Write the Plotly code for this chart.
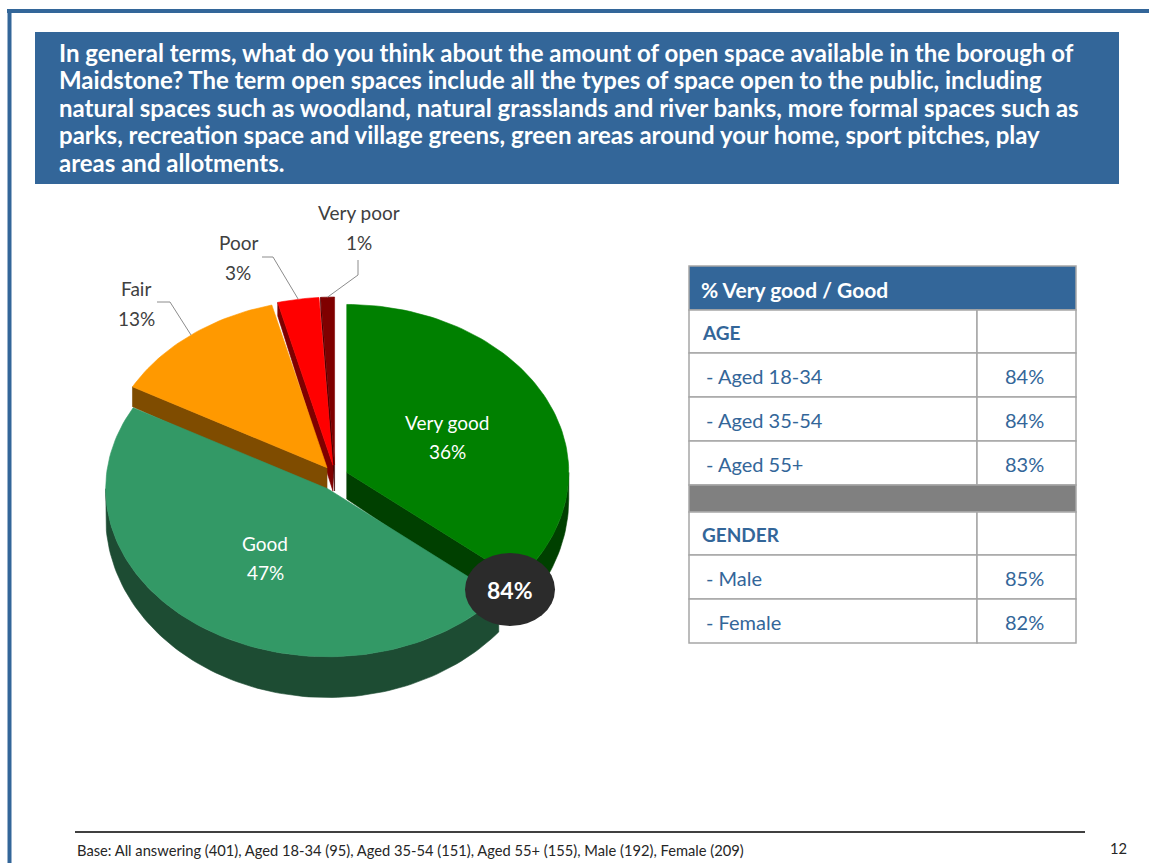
import numpy as np
import plotly.graph_objects as go

# ---------------- data ----------------
categories = ["Very good", "Good", "Fair", "Poor", "Very poor"]
shares = [36, 47, 13, 3, 1]
net_good = 84

age_groups = ["Aged 18-34", "Aged 35-54", "Aged 55+"]
age_values = [84, 84, 83]
gender_groups = ["Male", "Female"]
gender_values = [85, 82]

title_lines = [
    "In general terms, what do you think about the amount of open space available in the borough of",
    "Maidstone? The term open spaces include all the types of space open to the public, including",
    "natural spaces such as woodland, natural grasslands and river banks, more formal spaces such as",
    "parks, recreation space and village greens, green areas around your home, sport pitches, play",
    "areas and allotments.",
]
base_note = ("Base: All answering (401), Aged 18-34 (95), Aged 35-54 (151), "
             "Aged 55+ (155), Male (192), Female (209)")
page_no = "12"

# ---------------- styling ----------------
W, H = 1149, 866
BLUE = "#336699"
FONT = "Lato"
top_colors = ["#008000", "#339966", "#FF9900", "#FF0000", "#7F0000"]
side_colors = ["#004000", "#1D4C33", "#7F4C00", "#7F0000", "#3F0000"]

# 3-D pie geometry (page pixel units)
CX, CY = 335.0, 478.0
RX, RY = 222.0, 168.0
EXPLODE = 13.0
DEPTH = 27.0
PERSP = 0.48

# outside label anchors and leader elbows
outside = {
    "Fair": dict(pos=(136, 303), path=[(157, 302), (170, 302)]),
    "Poor": dict(pos=(238, 257), path=[(262, 257), (273, 257)]),
    "Very poor": dict(pos=(359, 227), path=[(358, 260), (358, 275)]),
}


def rad(d):
    return np.deg2rad(d)


def pt(c, a, r=1.0):
    return c[0] + RX * r * np.sin(rad(a)), c[1] - RY * r * np.cos(rad(a))


def depth(y):
    return DEPTH * (1 + PERSP * (y - CY) / RY)


def arc(c, a0, a1, n=None):
    n = n or max(4, int(abs(a1 - a0) / 1.5) + 2)
    angs = np.linspace(a0, a1, n)
    xs = c[0] + RX * np.sin(rad(angs))
    ys = c[1] - RY * np.cos(rad(angs))
    return list(xs), list(ys)


fig = go.Figure()

# slice angular extents, clockwise from 12 o'clock
total = float(sum(shares))
bounds = np.concatenate([[0], np.cumsum(shares) / total * 360.0])
slices = []
for i, name in enumerate(categories):
    a0, a1 = bounds[i], bounds[i + 1]
    mid = (a0 + a1) / 2
    c = (CX + EXPLODE * np.sin(rad(mid)), CY - EXPLODE * np.cos(rad(mid)))
    slices.append(dict(name=name, a0=a0, a1=a1, mid=mid, c=c, i=i))


def add_poly(xs, ys, color, lw=0.6, lc=None):
    fig.add_trace(go.Scatter(
        x=xs, y=ys, mode="lines", fill="toself", fillcolor=color,
        line=dict(color=lc or color, width=lw), hoverinfo="skip", showlegend=False))


# radial side faces that turn towards the viewer
radial = []
for s in slices:
    for a, vis in ((s["a0"], np.sin(rad(s["a0"])) < -1e-9), (s["a1"], np.sin(rad(s["a1"])) > 1e-9)):
        if vis:
            radial.append((s, a))
radial.sort(key=lambda t: pt(t[0]["c"], t[1], 0.5)[1])
for s, a in radial:
    c = s["c"]
    px, py = pt(c, a)
    xs = [c[0], px, px, c[0], c[0]]
    ys = [c[1], py, py + depth(py), c[1] + depth(c[1]), c[1]]
    add_poly(xs, ys, side_colors[s["i"]])

# outer rim (front half only)
for s in slices:
    lo, hi = max(s["a0"], 90.0), min(s["a1"], 270.0)
    if hi <= lo:
        continue
    xs, ys = arc(s["c"], lo, hi)
    yb = [y + depth(y) for y in ys]
    add_poly(xs + xs[::-1] + [xs[0]], ys + yb[::-1] + [ys[0]], side_colors[s["i"]])

# top faces
for s in slices:
    c = s["c"]
    xs, ys = arc(c, s["a0"], s["a1"])
    add_poly([c[0]] + xs + [c[0]], [c[1]] + ys + [c[1]], top_colors[s["i"]])

annotations = []
shapes = []

# data labels
for s in slices:
    name, v = s["name"], shares[s["i"]]
    if name in outside:
        lx, ly = outside[name]["pos"]
        annotations.append(dict(x=lx, y=ly - 15, text=name, showarrow=False,
                                font=dict(family=FONT, size=19, color="#404040")))
        annotations.append(dict(x=lx, y=ly + 15, text=f"{v}%", showarrow=False,
                                font=dict(family=FONT, size=19, color="#404040")))
        ex, ey = pt(s["c"], s["mid"])
        path = outside[name]["path"] + [(ex, ey)]
        fig.add_trace(go.Scatter(x=[p[0] for p in path], y=[p[1] for p in path], mode="lines",
                                 line=dict(color="#8C8C8C", width=1), hoverinfo="skip",
                                 showlegend=False))
    else:
        lx, ly = pt(s["c"], s["mid"], 0.5)
        annotations.append(dict(x=lx, y=ly - 14.5, text=name, showarrow=False,
                                font=dict(family=FONT, size=19, color="white")))
        annotations.append(dict(x=lx, y=ly + 14.5, text=f"{v}%", showarrow=False,
                                font=dict(family=FONT, size=19, color="white")))

# net score badge
shapes.append(dict(type="circle", x0=465, x1=555, y0=553, y1=626, xref="x", yref="y",
                   fillcolor="#2B2B2B", line=dict(width=0)))
annotations.append(dict(x=510, y=590, text=f"<b>{net_good}%</b>", showarrow=False,
                        font=dict(family=FONT, size=23, color="white")))

# page frame
shapes.append(dict(type="line", x0=7, x1=W, y0=11, y1=11, xref="x", yref="y",
                   line=dict(color=BLUE, width=4)))
shapes.append(dict(type="line", x0=9.5, x1=9.5, y0=9, y1=863, xref="x", yref="y",
                   line=dict(color=BLUE, width=4)))

# question banner
shapes.append(dict(type="rect", x0=35, x1=1119, y0=32, y1=184, xref="x", yref="y",
                   fillcolor=BLUE, line=dict(width=0), layer="below"))
for k, line in enumerate(title_lines):
    annotations.append(dict(x=57, y=52 + 27.5 * k, text=f"<b>{line}</b>", showarrow=False,
                            xanchor="left", yanchor="middle",
                            font=dict(family=FONT, size=24, color="white")))

# breakdown table
TX0, TX1, TXM = 689, 1076, 977
GRID = "#A6A6A6"
rows = [("head", "% Very good / Good", None, 44), ("sect", "AGE", None, 43)]
rows += [("item", g, v, 44) for g, v in zip(age_groups, age_values)]
rows += [("gap", "", None, 27), ("sect", "GENDER", None, 43)]
rows += [("item", g, v, 44) for g, v in zip(gender_groups, gender_values)]
y = 266.0
for kind, label, val, h in rows:
    y0, y1 = y, y + h
    if kind == "head":
        shapes.append(dict(type="rect", x0=TX0, x1=TX1, y0=y0, y1=y1, xref="x", yref="y",
                           fillcolor=BLUE, line=dict(color=GRID, width=1.5)))
        annotations.append(dict(x=TX0 + 10, y=(y0 + y1) / 2 + 1, text=f"<b>{label}</b>",
                                showarrow=False, xanchor="left",
                                font=dict(family=FONT, size=21, color="white")))
    elif kind == "gap":
        shapes.append(dict(type="rect", x0=TX0, x1=TX1, y0=y0, y1=y1, xref="x", yref="y",
                           fillcolor="#808080", line=dict(color=GRID, width=1.5)))
    else:
        shapes.append(dict(type="rect", x0=TX0, x1=TXM, y0=y0, y1=y1, xref="x", yref="y",
                           fillcolor="white", line=dict(color=GRID, width=1.5)))
        shapes.append(dict(type="rect", x0=TXM, x1=TX1, y0=y0, y1=y1, xref="x", yref="y",
                           fillcolor="white", line=dict(color=GRID, width=1.5)))
        if kind == "sect":
            annotations.append(dict(x=TX0 + 11, y=(y0 + y1) / 2 + 1, text=f"<b>{label}</b>",
                                    showarrow=False, xanchor="left",
                                    font=dict(family=FONT, size=19, color=BLUE)))
        else:
            annotations.append(dict(x=TX0 + 15, y=(y0 + y1) / 2 + 1, text=f"- {label}",
                                    showarrow=False, xanchor="left",
                                    font=dict(family=FONT, size=20, color=BLUE)))
            annotations.append(dict(x=1046, y=(y0 + y1) / 2 + 1, text=f"{val}%",
                                    showarrow=False, xanchor="right",
                                    font=dict(family=FONT, size=20, color=BLUE)))
    y = y1

# footer
shapes.append(dict(type="line", x0=75, x1=1085, y0=832, y1=832, xref="x", yref="y",
                   line=dict(color="#404040", width=2)))
annotations.append(dict(x=75, y=850, text=base_note, showarrow=False, xanchor="left",
                        font=dict(family=FONT, size=14.7, color="#262626")))
annotations.append(dict(x=1129, y=848, text=page_no, showarrow=False, xanchor="right",
                        font=dict(family=FONT, size=14.7, color="#262626")))

for a in annotations:
    a.setdefault("xref", "x")
    a.setdefault("yref", "y")

fig.update_layout(
    width=W, height=H, margin=dict(l=0, r=0, t=0, b=0),
    paper_bgcolor="white", plot_bgcolor="white",
    xaxis=dict(range=[0, W], visible=False, fixedrange=True),
    yaxis=dict(range=[H, 0], visible=False, fixedrange=True),
    shapes=shapes, annotations=annotations, showlegend=False,
)

fig.write_html("out.html")
